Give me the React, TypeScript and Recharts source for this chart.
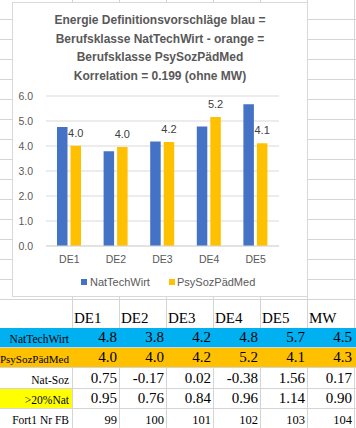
import React from 'react';
import { BarChart, Bar, XAxis, YAxis, CartesianGrid, LabelList } from 'recharts';

// chart values
const categories = ['DE1', 'DE2', 'DE3', 'DE4', 'DE5'];
const natTechWirt = [4.76, 3.79, 4.18, 4.78, 5.67];
const psySozPaedMed = [4.01, 3.96, 4.16, 5.16, 4.11];
const yTicks = [0, 1, 2, 3, 4, 5, 6];

// sheet table below the chart
const tableHeads = ['DE1', 'DE2', 'DE3', 'DE4', 'DE5', 'MW'];
const rowNat = [4.8, 3.8, 4.2, 4.8, 5.7, 4.5];
const rowPsy = [4.0, 4.0, 4.2, 5.2, 4.1, 4.3];
const rowDiff = [0.75, -0.17, 0.02, -0.38, 1.56, 0.17];
const rowPct = [0.95, 0.76, 0.84, 0.96, 1.14, 0.9];
const rowFb = [99, 100, 101, 102, 103, 104];

const titleLines = [
  'Energie Definitionsvorschläge blau =',
  'Berufsklasse NatTechWirt - orange =',
  'Berufsklasse PsySozPädMed',
  'Korrelation = 0.199 (ohne MW)',
];

const data = categories.map((name, i) => ({
  name,
  nat: natTechWirt[i],
  psy: psySozPaedMed[i],
}));

const BLUE = '#4472C4';
const ORANGE = '#FFC000';
const GRID = '#d4d4d4';
const SANS = '"Liberation Sans", Arial, sans-serif';
const SERIF = '"Liberation Serif", "Times New Roman", serif';

const colX = [0, 72, 119, 166, 213, 260, 307, 354];
const sheetRowLines = [19, 39, 59, 79, 99, 119, 139, 159, 179, 199, 219, 239, 259, 279, 299, 347, 367, 388, 408];

type RowProps = {
  top: number;
  height: number;
  label: string;
  values: string[];
  labelSize: number;
  valueSize: number;
  bg?: string;
  labelBg?: string;
};

const SheetRow: React.FC<RowProps> = ({ top, height, label, values, labelSize, valueSize, bg, labelBg }) => (
  <>
    {bg && <div style={{ position: 'absolute', left: 0, top, width: 356, height, background: bg }} />}
    {labelBg && <div style={{ position: 'absolute', left: 0, top, width: 72, height, background: labelBg }} />}
    <div
      style={{
        position: 'absolute', left: 0, top, width: 72, height, display: 'flex',
        alignItems: 'flex-end', justifyContent: 'flex-end', boxSizing: 'border-box',
        paddingRight: 3, paddingBottom: 2, fontFamily: SERIF, fontSize: labelSize, lineHeight: 1, whiteSpace: 'nowrap',
      }}
    >
      {label}
    </div>
    {values.map((v, i) => (
      <div
        key={i}
        style={{
          position: 'absolute', left: colX[i + 1], top, width: colX[i + 2] - colX[i + 1], height, display: 'flex',
          alignItems: 'flex-end', justifyContent: 'flex-end', boxSizing: 'border-box',
          paddingRight: 2, paddingBottom: 2, fontFamily: SERIF, fontSize: valueSize, lineHeight: 1,
        }}
      >
        {v}
      </div>
    ))}
  </>
);

const App: React.FC = () => {
  return (
    <div style={{ position: 'absolute', left: 0, top: 0, width: 356, height: 428, overflow: 'hidden', background: '#fff', color: '#000' }}>
      {/* spreadsheet grid */}
      {colX.slice(1).map((x) => (
        <div key={'c' + x} style={{ position: 'absolute', left: x, top: 0, width: 1, height: 428, background: GRID }} />
      ))}
      {sheetRowLines.map((y) => (
        <div key={'r' + y} style={{ position: 'absolute', left: 0, top: y, width: 356, height: 1, background: GRID }} />
      ))}

      {/* table */}
      {tableHeads.map((h, i) => (
        <div
          key={h}
          style={{
            position: 'absolute', left: colX[i + 1], top: 300, width: colX[i + 2] - colX[i + 1], height: 28,
            display: 'flex', alignItems: 'flex-end', boxSizing: 'border-box', paddingLeft: 2, paddingBottom: 2,
            fontFamily: SERIF, fontSize: 15, lineHeight: 1,
          }}
        >
          {h}
        </div>
      ))}
      <SheetRow top={328} height={19} label="NatTechWirt" values={rowNat.map((v) => v.toFixed(1))} labelSize={11.5} valueSize={15} bg="#00B0F0" />
      <SheetRow top={348} height={19} label="PsySozPädMed" values={rowPsy.map((v) => v.toFixed(1))} labelSize={11} valueSize={15} bg="#FFC000" />
      <SheetRow top={368} height={20} label="Nat-Soz" values={rowDiff.map((v) => v.toFixed(2))} labelSize={11.5} valueSize={15} />
      <SheetRow top={389} height={19} label=">20%Nat" values={rowPct.map((v) => v.toFixed(2))} labelSize={11.5} valueSize={15} labelBg="#FFFF00" />
      <SheetRow top={409} height={19} label="Fort1 Nr FB" values={rowFb.map((v) => String(v))} labelSize={11.5} valueSize={12.5} />

      {/* chart box */}
      <div style={{ position: 'absolute', left: 12, top: 2, width: 296, height: 295, boxSizing: 'border-box', border: '1px solid #d9d9d9', background: '#fff' }} />

      <div style={{ position: 'absolute', left: 12, top: 11, width: 296, textAlign: 'center', fontFamily: SANS, fontWeight: 'bold', fontSize: 12, lineHeight: '18.5px', color: '#595959' }}>
        {titleLines.map((t) => (
          <div key={t}>{t}</div>
        ))}
      </div>

      <div style={{ position: 'absolute', left: 12, top: 2 }}>
        <BarChart width={295} height={294} data={data} margin={{ top: 94, right: 28, left: 0, bottom: 0 }} barGap={3} barSize={10.5}>
          <CartesianGrid vertical={false} stroke="#d9d9d9" />
          <XAxis
            dataKey="name"
            height={50}
            tickLine={false}
            tickSize={0}
            tickMargin={10}
            axisLine={{ stroke: '#d9d9d9' }}
            tick={{ fill: '#595959', fontSize: 10.5, fontFamily: SANS }}
          />
          <YAxis
            width={34}
            domain={[0, 6]}
            ticks={yTicks}
            interval={0}
            axisLine={false}
            tickLine={false}
            tickSize={0}
            tickMargin={13}
            tickFormatter={(v: number) => v.toFixed(1)}
            tick={{ fill: '#595959', fontSize: 10.5, fontFamily: SANS }}
          />
          <Bar dataKey="nat" name="NatTechWirt" fill={BLUE} isAnimationActive={false} />
          <Bar dataKey="psy" name="PsySozPädMed" fill={ORANGE} isAnimationActive={false}>
            <LabelList
              dataKey="psy"
              position="top"
              offset={9}
              fill="#404040"
              fontSize={11}
              fontFamily={SANS}
              formatter={(v: any) => Number(v).toFixed(1)}
            />
          </Bar>
        </BarChart>
      </div>

      {/* legend */}
      <div style={{ position: 'absolute', left: 81, top: 279, width: 6, height: 6, background: BLUE }} />
      <div style={{ position: 'absolute', left: 90, top: 276, fontFamily: SANS, fontSize: 11, lineHeight: '13px', color: '#595959' }}>NatTechWirt</div>
      <div style={{ position: 'absolute', left: 169, top: 279, width: 6, height: 6, background: ORANGE }} />
      <div style={{ position: 'absolute', left: 177, top: 276, fontFamily: SANS, fontSize: 11, lineHeight: '13px', color: '#595959' }}>PsySozPädMed</div>
    </div>
  );
};

export default App;
